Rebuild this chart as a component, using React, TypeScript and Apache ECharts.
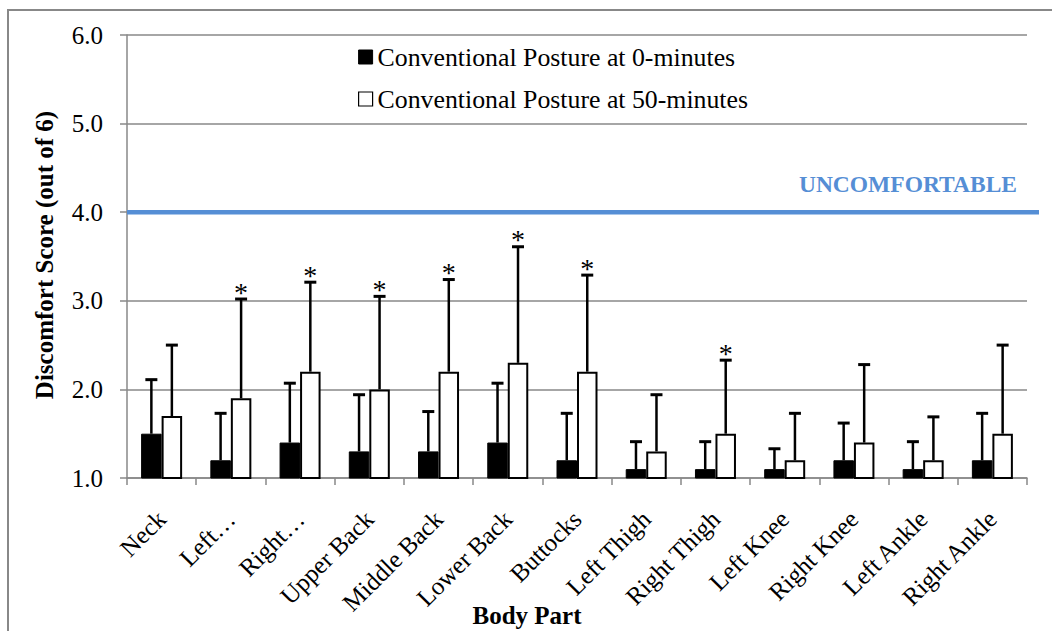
import React, { useEffect, useRef } from "react";
import * as echarts from "echarts";

const categories = [
  "Neck",
  "Left…",
  "Right…",
  "Upper Back",
  "Middle Back",
  "Lower Back",
  "Buttocks",
  "Left Thigh",
  "Right Thigh",
  "Left Knee",
  "Right Knee",
  "Left Ankle",
  "Right Ankle",
];

const seriesNames = ["Conventional Posture at 0-minutes", "Conventional Posture at 50-minutes"];

const mean0 = [1.5, 1.2, 1.4, 1.3, 1.3, 1.4, 1.2, 1.1, 1.1, 1.1, 1.2, 1.1, 1.2];
const sd0 = [0.61, 0.53, 0.67, 0.64, 0.45, 0.67, 0.53, 0.31, 0.31, 0.23, 0.42, 0.31, 0.53];
const mean50 = [1.7, 1.9, 2.2, 2.0, 2.2, 2.3, 2.2, 1.3, 1.5, 1.2, 1.4, 1.2, 1.5];
const sd50 = [0.8, 1.12, 1.01, 1.05, 1.04, 1.31, 1.09, 0.64, 0.83, 0.53, 0.88, 0.49, 1.0];
const significant50 = [0, 1, 1, 1, 1, 1, 1, 0, 1, 0, 0, 0, 0];

const yTicks = { min: 1, max: 6, interval: 1 };
const thresholdValue = 4;
const thresholdLabel = "UNCOMFORTABLE";
const xTitle = "Body Part";
const yTitle = "Discomfort Score (out of 6)";

const FONT = "'Liberation Serif', 'Times New Roman', serif";
const BAR_W = 20.5;
const GRAY = "#888888";
const BLUE = "#558ed5";

function errorRenderer(offset: number) {
  return (params: any, api: any) => {
    const idx = api.value(0);
    const m = api.value(1);
    const s = api.value(2);
    const sig = api.value(3);
    const base = api.coord([idx, m]);
    const top = api.coord([idx, m + s]);
    const x = base[0] + offset;
    const children: any[] = [
      {
        type: "line",
        shape: { x1: x, y1: base[1], x2: x, y2: top[1] },
        style: { stroke: "#000", lineWidth: 2.5 },
      },
      {
        type: "line",
        shape: { x1: x - 6, y1: top[1], x2: x + 6, y2: top[1] },
        style: { stroke: "#000", lineWidth: 3 },
      },
    ];
    if (sig) {
      children.push({
        type: "text",
        x: x,
        y: top[1] - 7,
        style: {
          text: "*",
          fontFamily: FONT,
          fontSize: 28,
          fill: "#000",
          align: "center",
          verticalAlign: "middle",
        },
      });
    }
    return { type: "group", children };
  };
}

export default function App() {
  const ref = useRef<HTMLDivElement>(null);

  useEffect(() => {
    if (!ref.current) return;
    const chart = echarts.init(ref.current, undefined, { renderer: "svg" });
    const grid = { left: 127, right: 25, top: 35, bottom: 153 };
    chart.setOption({
      animation: false,
      backgroundColor: "#fff",
      textStyle: { fontFamily: FONT },
      grid,
      legend: {
        orient: "vertical",
        left: 358,
        top: 44,
        padding: 0,
        itemWidth: 14,
        itemHeight: 14,
        itemGap: 16,
        icon: "rect",
        textStyle: { fontFamily: FONT, fontSize: 25.8, color: "#000", lineHeight: 25 },
        data: [
          { name: seriesNames[0], itemStyle: { color: "#000", borderColor: "#000", borderWidth: 1 } },
          { name: seriesNames[1], itemStyle: { color: "#fff", borderColor: "#000", borderWidth: 1.2 } },
        ],
      },
      xAxis: {
        type: "category",
        data: categories,
        boundaryGap: true,
        axisLine: { show: true, lineStyle: { color: GRAY, width: 1.5 } },
        axisTick: { show: true, interval: 0, length: 7, lineStyle: { color: GRAY, width: 1.5 } },
        axisLabel: {
          interval: 0,
          rotate: 45,
          margin: 37,
          fontFamily: FONT,
          fontSize: 25,
          color: "#000",
        },
      },
      yAxis: {
        type: "value",
        min: yTicks.min,
        max: yTicks.max,
        interval: yTicks.interval,
        axisLine: { show: true, lineStyle: { color: GRAY, width: 1.5 } },
        axisTick: { show: true, length: 7, lineStyle: { color: GRAY, width: 1.5 } },
        splitLine: { show: true, lineStyle: { color: GRAY, width: 1.5 } },
        axisLabel: {
          margin: 24,
          fontFamily: FONT,
          fontSize: 25,
          color: "#000",
          formatter: (v: number) => v.toFixed(1),
        },
      },
      series: [
        {
          name: seriesNames[0],
          type: "bar",
          data: mean0,
          barWidth: BAR_W,
          barGap: "0%",
          itemStyle: { color: "#000", borderColor: "#000", borderWidth: 1 },
        },
        {
          name: seriesNames[1],
          type: "bar",
          data: mean50,
          barWidth: BAR_W,
          barGap: "0%",
          itemStyle: { color: "#fff", borderColor: "#000", borderWidth: 2 },
        },
        {
          type: "custom",
          name: "err0",
          renderItem: errorRenderer(-BAR_W / 2),
          data: mean0.map((m, i) => [i, m, sd0[i], 0]),
          z: 5,
          silent: true,
        },
        {
          type: "custom",
          name: "err50",
          renderItem: errorRenderer(BAR_W / 2),
          data: mean50.map((m, i) => [i, m, sd50[i], significant50[i]]),
          z: 5,
          silent: true,
        },
      ],
    });

    const y4 = chart.convertToPixel({ yAxisIndex: 0 }, thresholdValue) as number;
    const W = 1052;
    const H = 631;
    const plotRight = W - grid.right;
    const plotBottom = H - grid.bottom;
    chart.setOption({
      graphic: [
        {
          type: "rect",
          shape: { x: 8, y: 10, width: 1200, height: 800 },
          style: { fill: "none", stroke: GRAY, lineWidth: 2 },
          silent: true,
        },
        {
          type: "line",
          shape: { x1: grid.left, y1: y4, x2: plotRight + 12, y2: y4 },
          style: { stroke: BLUE, lineWidth: 4.5 },
          z: 10,
          silent: true,
        },
        {
          type: "text",
          x: plotRight - 10,
          y: y4 - 28.5,
          style: {
            text: thresholdLabel,
            fontFamily: FONT,
            fontSize: 23.5,
            fontWeight: "bold",
            fill: BLUE,
            align: "right",
            verticalAlign: "middle",
          },
          z: 10,
        },
        {
          type: "text",
          x: 527,
          y: plotBottom + 137,
          style: {
            text: xTitle,
            fontFamily: FONT,
            fontSize: 25,
            fontWeight: "bold",
            fill: "#000",
            align: "center",
            verticalAlign: "middle",
          },
        },
        {
          type: "text",
          x: 44,
          y: 255,
          rotation: Math.PI / 2,
          style: {
            text: yTitle,
            fontFamily: FONT,
            fontSize: 25,
            fontWeight: "bold",
            fill: "#000",
            align: "center",
            verticalAlign: "middle",
          },
        },
      ],
    });

    return () => chart.dispose();
  }, []);

  return (
    <div
      ref={ref}
      style={{ position: "absolute", left: 0, top: 0, width: 1052, height: 631 }}
    />
  );
}
